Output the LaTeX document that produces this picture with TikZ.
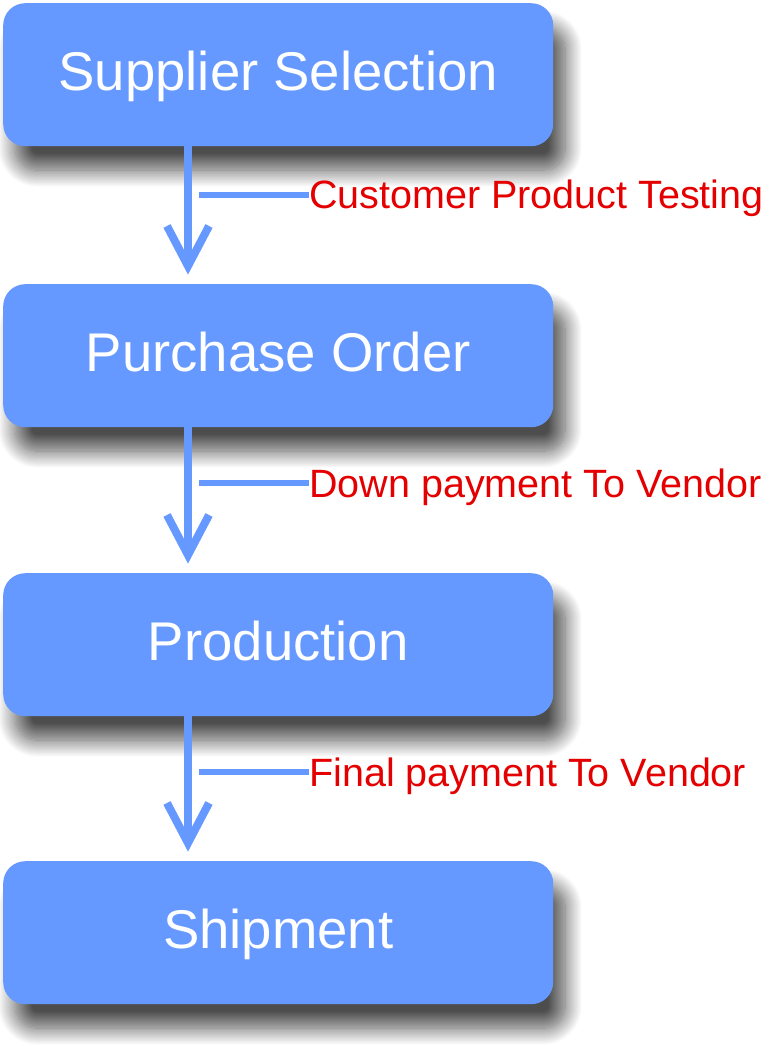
\documentclass[tikz,border=0pt]{standalone}
\usepackage{fontspec}
\setmainfont{Liberation Sans}
\usetikzlibrary{shadows.blur}
\definecolor{boxblue}{RGB}{102,153,255}
\definecolor{labred}{RGB}{228,0,0}
\begin{document}
\begin{tikzpicture}[x=1pt,y=1pt,
  stepbox/.style={rectangle, rounded corners=22pt, fill=boxblue, minimum width=550pt,
    minimum height=143pt, inner sep=0pt, text=white, font=\fontsize{54.5}{60}\selectfont,
    text height=40pt, text depth=9pt, anchor=north west,
    blur shadow={shadow xshift=12pt, shadow yshift=-24pt, shadow blur radius=17pt, shadow blur steps=20, shadow opacity=70}},
  conn/.style={draw=boxblue, line width=8pt},
  chev/.style={draw=boxblue, line width=8pt, line join=miter},
  tickline/.style={draw=boxblue, line width=6.5pt},
  lab/.style={text=labred, font=\fontsize{39.5}{44}\selectfont, inner sep=0pt, anchor=base west}]
\useasboundingbox (0,0) rectangle (768,-1046);
\node[stepbox] (b1) at (3,-3) {Supplier Selection};
\node[stepbox] (b2) at (3,-284) {Purchase Order};
\node[stepbox] (b3) at (3,-573) {Production};
\node[stepbox] (b4) at (3,-861) {Shipment};
\coordinate (ax) at (188,0);
\path (b2.north -| ax) ++(0,18) coordinate (t1);
\path (b3.north -| ax) ++(0,18) coordinate (t2);
\path (b4.north -| ax) ++(0,18) coordinate (t3);
\draw[conn] (b1.south -| ax) -- (t1);
\draw[conn] (b2.south -| ax) -- (t2);
\draw[conn] (b3.south -| ax) -- (t3);
\draw[chev] (t1) ++(-21,40) -- (t1) -- ++(21,40);
\draw[chev] (t2) ++(-21,40) -- (t2) -- ++(21,40);
\draw[chev] (t3) ++(-21,40) -- (t3) -- ++(21,40);
\coordinate (s1) at (199,-195);
\coordinate (s2) at (199,-483);
\coordinate (s3) at (199,-772);
\node[lab] (l1) at (309,-208.5) {Customer Product Testing};
\node[lab] (l2) at (309,-497.5) {Down payment To Vendor};
\node[lab] (l3) at (309,-786) {Final payment To Vendor};
\draw[tickline] (s1) -- (s1 -| l1.west);
\draw[tickline] (s2) -- (s2 -| l2.west);
\draw[tickline] (s3) -- (s3 -| l3.west);
\end{tikzpicture}
\end{document}
